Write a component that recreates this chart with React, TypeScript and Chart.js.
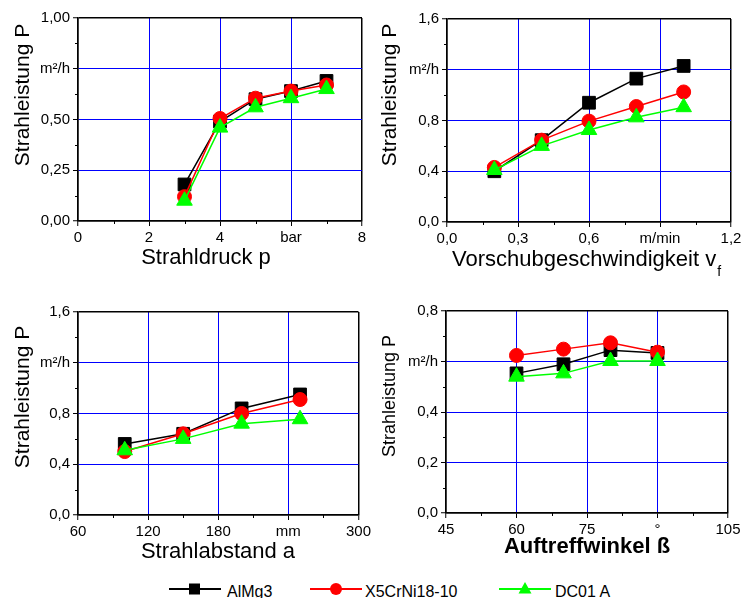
import React, { useEffect, useRef } from 'react';
import { Chart, registerables } from 'chart.js';

Chart.register(...registerables);

const FONT = '"Liberation Sans", Arial, Helvetica, sans-serif';
Chart.defaults.font.family = FONT;
Chart.defaults.color = '#000';

// ---------- series meta ----------
const seriesNames = ['AlMg3', 'X5CrNi18-10', 'DC01 A'];
const seriesColors = ['#000000', '#ff0000', '#00ff00'];
const seriesMarkers = ['rect', 'circle', 'triangle'];
const markerRadius = [9, 7, 9];

// ---------- Panel 1: Strahldruck p ----------
const pressureValues = [3, 4, 5, 6, 7];
const pressureAlMg3 = [0.18, 0.49, 0.6, 0.64, 0.69];
const pressureX5CrNi = [0.12, 0.505, 0.605, 0.64, 0.67];
const pressureDC01 = [0.1, 0.46, 0.56, 0.605, 0.65];
const pressureXTicks = ['0', '2', '4', 'bar', '8'];
const pressureYTicks = ['0,00', '0,25', '0,50', 'm²/h', '1,00'];

// ---------- Panel 2: Vorschubgeschwindigkeit ----------
const feedValues = [0.2, 0.4, 0.6, 0.8, 1.0];
const feedAlMg3 = [0.4, 0.645, 0.94, 1.13, 1.23];
const feedX5CrNi = [0.43, 0.645, 0.795, 0.91, 1.025];
const feedDC01 = [0.41, 0.6, 0.725, 0.825, 0.905];
const feedXTicks = ['0,0', '0,3', '0,6', 'm/min', '1,2'];
const feedYTicks = ['0,0', '0,4', '0,8', 'm²/h', '1,6'];

// ---------- Panel 3: Strahlabstand a ----------
const distValues = [100, 150, 200, 250];
const distAlMg3 = [0.56, 0.64, 0.84, 0.95];
const distX5CrNi = [0.5, 0.64, 0.8, 0.91];
const distDC01 = [0.51, 0.6, 0.72, 0.755];
const distXTicks = ['60', '120', '180', 'mm', '300'];
const distYTicks = ['0,0', '0,4', '0,8', 'm²/h', '1,6'];

// ---------- Panel 4: Auftreffwinkel ----------
const angleValues = [60, 70, 80, 90];
const angleAlMg3 = [0.553, 0.589, 0.645, 0.634];
const angleX5CrNi = [0.624, 0.649, 0.674, 0.637];
const angleDC01 = [0.54, 0.553, 0.602, 0.602];
const angleXTicks = ['45', '60', '75', '°', '105'];
const angleYTicks = ['0,0', '0,2', '0,4', 'm²/h', '0,8'];

const yTitleText = 'Strahleistung P';

type PanelCfg = {
  canvas: [number, number, number, number];
  plot: [number, number, number, number];
  xs: number[];
  series: number[][];
  x: [number, number, number];
  y: [number, number, number];
  xTicks: string[];
  yTicks: string[];
  xTitle: { text: string; sub?: string; bold?: boolean; size: number; cx?: number; left?: number; base: number };
  yTitle: { size: number; cx: number; cy: number };
};

const panels: PanelCfg[] = [
  {
    canvas: [0, 0, 374, 285],
    plot: [78, 18, 362, 221],
    xs: pressureValues,
    series: [pressureAlMg3, pressureX5CrNi, pressureDC01],
    x: [0, 8, 2],
    y: [0, 1, 0.25],
    xTicks: pressureXTicks,
    yTicks: pressureYTicks,
    xTitle: { text: 'Strahldruck p', size: 22, cx: 206, base: 264 },
    yTitle: { size: 21, cx: 23, cy: 95 },
  },
  {
    canvas: [374, 0, 374, 285],
    plot: [447, 19, 731, 222],
    xs: feedValues,
    series: [feedAlMg3, feedX5CrNi, feedDC01],
    x: [0, 1.2, 0.3],
    y: [0, 1.6, 0.4],
    xTicks: feedXTicks,
    yTicks: feedYTicks,
    xTitle: { text: 'Vorschubgeschwindigkeit v', sub: 'f', size: 22, left: 452, base: 266 },
    yTitle: { size: 21, cx: 390, cy: 95 },
  },
  {
    canvas: [0, 285, 374, 285],
    plot: [78, 312, 360, 515],
    xs: distValues,
    series: [distAlMg3, distX5CrNi, distDC01],
    x: [60, 300, 60],
    y: [0, 1.6, 0.4],
    xTicks: distXTicks,
    yTicks: distYTicks,
    xTitle: { text: 'Strahlabstand a', size: 22, cx: 218, base: 558 },
    yTitle: { size: 21, cx: 23, cy: 397 },
  },
  {
    canvas: [374, 285, 374, 285],
    plot: [446, 311, 728, 513],
    xs: angleValues,
    series: [angleAlMg3, angleX5CrNi, angleDC01],
    x: [45, 105, 15],
    y: [0, 0.8, 0.2],
    xTicks: angleXTicks,
    yTicks: angleYTicks,
    xTitle: { text: 'Auftreffwinkel ß', bold: true, size: 22, cx: 587, base: 553 },
    yTitle: { size: 18, cx: 390, cy: 396 },
  },
];

const decorPlugin = {
  id: 'decor',
  afterDraw(chart: any, _args: any, opts: any) {
    const ctx = chart.ctx as CanvasRenderingContext2D;
    const { left, bottom } = chart.chartArea;
    const xs = chart.scales.x;
    const ys = chart.scales.y;
    ctx.save();
    ctx.strokeStyle = '#000';
    ctx.lineWidth = 1;
    ctx.beginPath();
    for (let i = 0; i < xs.ticks.length - 1; i++) {
      const v = (xs.ticks[i].value + xs.ticks[i + 1].value) / 2;
      const px = Math.round(xs.getPixelForValue(v)) + 0.5;
      ctx.moveTo(px, bottom);
      ctx.lineTo(px, bottom + 3);
    }
    for (let i = 0; i < ys.ticks.length - 1; i++) {
      const v = (ys.ticks[i].value + ys.ticks[i + 1].value) / 2;
      const py = Math.round(ys.getPixelForValue(v)) + 0.5;
      ctx.moveTo(left - 3, py);
      ctx.lineTo(left, py);
    }
    ctx.stroke();

    ctx.fillStyle = '#000';
    const yt = opts.yTitle;
    ctx.save();
    ctx.translate(yt.cx - opts.ox, yt.cy - opts.oy);
    ctx.rotate(-Math.PI / 2);
    ctx.font = `${yt.size}px ${FONT}`;
    ctx.textAlign = 'center';
    ctx.textBaseline = 'middle';
    ctx.fillText(opts.yText, 0, 0);
    ctx.restore();

    const xt = opts.xTitle;
    ctx.font = `${xt.bold ? 'bold ' : ''}${xt.size}px ${FONT}`;
    ctx.textBaseline = 'alphabetic';
    if (xt.sub) {
      ctx.textAlign = 'left';
      const x0 = xt.left - opts.ox;
      ctx.fillText(xt.text, x0, xt.base - opts.oy);
      const w = ctx.measureText(xt.text).width;
      ctx.font = `14px ${FONT}`;
      ctx.fillText(xt.sub, x0 + w + 1, xt.base - opts.oy + 10);
    } else {
      ctx.textAlign = 'center';
      ctx.fillText(xt.text, xt.cx - opts.ox, xt.base - opts.oy);
    }
    ctx.restore();
  },
};

const edgeColor = (c: any) =>
  c.index === 0 || c.index === c.scale.ticks.length - 1 ? '#000000' : '#0000ff';
const edgeWidth = (c: any) =>
  c.index === 0 || c.index === c.scale.ticks.length - 1 ? 1.5 : 1;

function PanelChart({ p }: { p: PanelCfg }) {
  const ref = useRef<HTMLCanvasElement>(null);
  useEffect(() => {
    const [cx, cy, cw, ch] = p.canvas;
    const [l, t, r, b] = p.plot;
    const chart = new Chart(ref.current as HTMLCanvasElement, {
      type: 'line',
      data: {
        datasets: p.series.map((vals, si) => ({
          label: seriesNames[si],
          data: p.xs.map((x, i) => ({ x, y: vals[i] })),
          borderColor: seriesColors[si],
          backgroundColor: seriesColors[si],
          borderWidth: 1.5,
          pointStyle: seriesMarkers[si] as any,
          pointRadius: markerRadius[si],
          pointBorderWidth: 1,
          pointBorderColor: seriesColors[si],
          pointBackgroundColor: seriesColors[si],
          order: 3 - si,
          tension: 0,
          fill: false,
        })),
      },
      options: {
        responsive: false,
        animation: false,
        devicePixelRatio: 1,
        layout: { padding: { left: 0, top: t - cy, right: cx + cw - r, bottom: 0 } },
        plugins: {
          legend: { display: false },
          tooltip: { enabled: false },
          decor: { ox: cx, oy: cy, xTitle: p.xTitle, yTitle: p.yTitle, yText: yTitleText },
        } as any,
        scales: {
          x: {
            type: 'linear',
            min: p.x[0],
            max: p.x[1],
            afterFit: (s: any) => {
              s.height = cy + ch - b;
            },
            ticks: {
              stepSize: p.x[2],
              autoSkip: false,
              maxRotation: 0,
              padding: 3,
              font: { size: 15 },
              color: '#000',
              callback: (_v: any, i: number) => p.xTicks[i] ?? '',
            },
            grid: { color: edgeColor, lineWidth: edgeWidth, tickColor: '#000', tickLength: 5, tickWidth: 1 },
            border: { color: '#000', width: 1.5 },
          },
          y: {
            type: 'linear',
            min: p.y[0],
            max: p.y[1],
            afterFit: (s: any) => {
              s.width = l - cx;
            },
            ticks: {
              stepSize: p.y[2],
              autoSkip: false,
              padding: 3,
              font: { size: 15 },
              color: '#000',
              callback: (_v: any, i: number) => p.yTicks[i] ?? '',
            },
            grid: { color: edgeColor, lineWidth: edgeWidth, tickColor: '#000', tickLength: 5, tickWidth: 1 },
            border: { color: '#000', width: 1.5 },
          },
        },
      } as any,
      plugins: [decorPlugin as any],
    });
    return () => chart.destroy();
  }, [p]);
  const [cx, cy, cw, ch] = p.canvas;
  return (
    <canvas
      ref={ref}
      width={cw}
      height={ch}
      style={{ position: 'absolute', left: cx, top: cy, width: cw, height: ch }}
    />
  );
}

function LegendMarker({ kind, color }: { kind: string; color: string }) {
  return (
    <svg width={52} height={16} style={{ position: 'absolute', left: 0, top: 0 }}>
      <line x1={0} y1={8} x2={52} y2={8} stroke={color} strokeWidth={2} />
      {kind === 'rect' && <rect x={20} y={2.5} width={11} height={11} fill={color} />}
      {kind === 'circle' && <circle cx={26} cy={8} r={6} fill={color} />}
      {kind === 'triangle' && <polygon points="26,1 32.5,12.5 19.5,12.5" fill={color} />}
    </svg>
  );
}

const legendLineLeft = [169, 310, 499];
const legendTextLeft = [227, 365, 555];

export default function App() {
  return (
    <div
      style={{
        position: 'fixed',
        left: 0,
        top: 0,
        width: 748,
        height: 598,
        background: '#fff',
        overflow: 'hidden',
        fontFamily: FONT,
      }}
    >
      {panels.map((p, i) => (
        <PanelChart key={i} p={p} />
      ))}
      {seriesNames.map((name, i) => (
        <React.Fragment key={name}>
          <div style={{ position: 'absolute', left: legendLineLeft[i], top: 581, width: 52, height: 16 }}>
            <LegendMarker kind={seriesMarkers[i]} color={seriesColors[i]} />
          </div>
          <div
            style={{
              position: 'absolute',
              left: legendTextLeft[i],
              top: 583,
              fontSize: 16,
              lineHeight: '18px',
              color: '#000',
              whiteSpace: 'nowrap',
            }}
          >
            {name}
          </div>
        </React.Fragment>
      ))}
    </div>
  );
}
